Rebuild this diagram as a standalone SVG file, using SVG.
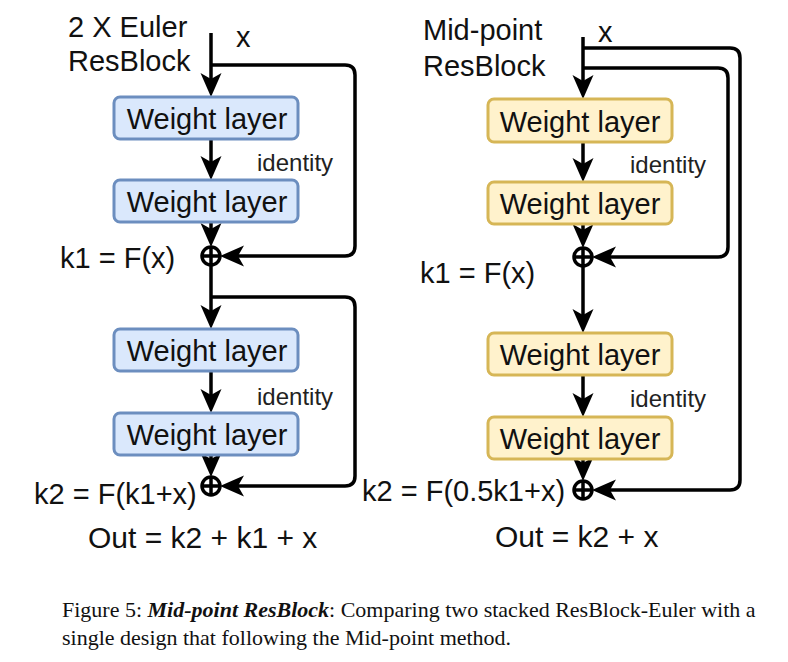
<svg xmlns="http://www.w3.org/2000/svg" width="788" height="662" viewBox="0 0 788 662">
<style>
.lbl{font-family:"Liberation Sans",Arial,sans-serif;font-size:29px;fill:#111}
.out{font-size:30px}
.idt{font-family:"Liberation Sans",Arial,sans-serif;font-size:24px;fill:#222}
.box-b{fill:#dae8fc;stroke:#6c8ebf;stroke-width:3}
.box-y{fill:#fff2cc;stroke:#d6b656;stroke-width:3}
.wl{font-family:"Liberation Sans",Arial,sans-serif;font-size:29px;fill:#111;text-anchor:middle}
.ln{fill:none;stroke:#000;stroke-width:3.5}
.arr{marker-end:url(#ah)}
.sum{fill:none;stroke:#000;stroke-width:3.5}
.cap{font-family:"Liberation Serif","Times New Roman",serif;font-size:22px;fill:#111}
</style>
<defs>
<marker id="ah" markerUnits="userSpaceOnUse" markerWidth="26" markerHeight="24" viewBox="-25 -12 26 24" refX="-10" refY="0" orient="auto">
<path d="M0,0 L-24,-10.5 L-18,0 L-24,10.5 Z" fill="#000"/>
</marker>
</defs>
<rect width="788" height="662" fill="#fff"/>

<g id="connectors">
<path class="ln arr" d="M211,33 V87"/>
<path class="ln arr" d="M211,65 H345 Q355,65 355,75 V246 Q355,256 345,256 H230"/>
<path class="ln arr" d="M211,139 V170"/>
<path class="ln arr" d="M211,222 V237"/>
<path class="ln arr" d="M211,265 V319"/>
<path class="ln arr" d="M211,297 H345 Q355,297 355,307 V476 Q355,486 345,486 H230"/>
<path class="ln arr" d="M211,371 V403"/>
<path class="ln arr" d="M211,455 V467"/>
<path class="ln arr" d="M583,37 V89"/>
<path class="ln arr" d="M583,48 H730 Q740,48 740,58 V480 Q740,490 730,490 H602"/>
<path class="ln arr" d="M583,68 H718 Q728,68 728,78 V247 Q728,257 718,257 H602"/>
<path class="ln arr" d="M583,142 V172"/>
<path class="ln arr" d="M583,224 V238"/>
<path class="ln arr" d="M583,266 V323"/>
<path class="ln arr" d="M583,375 V407"/>
<path class="ln arr" d="M583,459 V471"/>
</g>

<g id="euler-title"><text class="lbl" x="68" y="37">2 X Euler</text><text class="lbl" x="68" y="71">ResBlock</text></g>
<g id="euler-x"><text class="lbl" x="236" y="47">x</text></g>
<g id="euler-w1"><rect class="box-b" x="114" y="97" width="184" height="42" rx="6"/><text class="wl" x="207" y="129">Weight layer</text></g>
<g id="euler-id1"><text class="idt" x="257" y="171">identity</text></g>
<g id="euler-w2"><rect class="box-b" x="114" y="180" width="184" height="42" rx="6"/><text class="wl" x="207" y="212">Weight layer</text></g>
<g id="euler-sum1"><circle class="sum" cx="211" cy="256" r="9"/><path class="sum" d="M202,256 H220 M211,247 V265"/><text class="lbl" x="60" y="268">k1 = F(x)</text></g>
<g id="euler-w3"><rect class="box-b" x="114" y="329" width="184" height="42" rx="6"/><text class="wl" x="207" y="361">Weight layer</text></g>
<g id="euler-id2"><text class="idt" x="257" y="405">identity</text></g>
<g id="euler-w4"><rect class="box-b" x="114" y="413" width="184" height="42" rx="6"/><text class="wl" x="207" y="445">Weight layer</text></g>
<g id="euler-sum2"><circle class="sum" cx="211" cy="486" r="9"/><path class="sum" d="M202,486 H220 M211,477 V495"/><text class="lbl" x="34" y="504">k2 = F(k1+x)</text></g>
<g id="euler-out"><text class="lbl out" x="88" y="548">Out = k2 + k1 + x</text></g>

<g id="mid-title"><text class="lbl" x="423" y="40">Mid-point</text><text class="lbl" x="423" y="76">ResBlock</text></g>
<g id="mid-x"><text class="lbl" x="598" y="42">x</text></g>
<g id="mid-w1"><rect class="box-y" x="488" y="99" width="184" height="43" rx="6"/><text class="wl" x="580" y="132">Weight layer</text></g>
<g id="mid-id1"><text class="idt" x="630" y="173">identity</text></g>
<g id="mid-w2"><rect class="box-y" x="488" y="182" width="184" height="42" rx="6"/><text class="wl" x="580" y="214">Weight layer</text></g>
<g id="mid-sum1"><circle class="sum" cx="583" cy="257" r="9"/><path class="sum" d="M574,257 H592 M583,248 V266"/><text class="lbl" x="420" y="283">k1 = F(x)</text></g>
<g id="mid-w3"><rect class="box-y" x="488" y="333" width="184" height="42" rx="6"/><text class="wl" x="580" y="365">Weight layer</text></g>
<g id="mid-id2"><text class="idt" x="630" y="407">identity</text></g>
<g id="mid-w4"><rect class="box-y" x="488" y="417" width="184" height="42" rx="6"/><text class="wl" x="580" y="449">Weight layer</text></g>
<g id="mid-sum2"><circle class="sum" cx="583" cy="490" r="9"/><path class="sum" d="M574,490 H592 M583,481 V499"/><text class="lbl" x="362" y="501">k2 = F(0.5k1+x)</text></g>
<g id="mid-out"><text class="lbl out" x="495" y="547">Out = k2 + x</text></g>

<g id="caption">
<text class="cap" x="62" y="617">Figure 5: <tspan font-weight="bold" font-style="italic">Mid-point ResBlock</tspan>: Comparing two stacked ResBlock-Euler with a</text>
<text class="cap" x="62" y="645">single design that following the Mid-point method.</text>
</g>
</svg>
